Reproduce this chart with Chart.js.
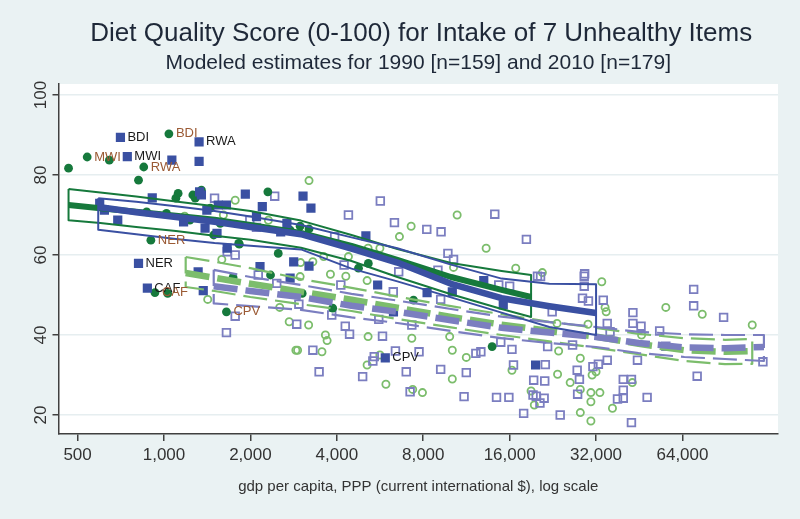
<!DOCTYPE html>
<html>
<head>
<meta charset="utf-8">
<script src="https://cdn.jsdelivr.net/npm/chart.js@4.4.1/dist/chart.umd.min.js"></script>
<style>
html, body { margin: 0; padding: 0; background: #eaf2f3; }
#wrap { width: 800px; height: 519px; }
</style>
</head>
<body>
<div id="wrap"><canvas id="c" width="800" height="519"></canvas></div>
<script>
// titles / axis text
var titleText = 'Diet Quality Score (0-100) for Intake of 7 Unhealthy Items';
var subtitleText = 'Modeled estimates for 1990 [n=159] and 2010 [n=179]';
var xTitle = 'gdp per capita, PPP (current international $), log scale';
var xTicks = [500, 1000, 2000, 4000, 8000, 16000, 32000, 64000];
var yTicks = [20, 40, 60, 80, 100];

// countries, [gdp, score, label]
var blueSquares = [
    [705, 89.4, 'BDI'], [745, 84.6, 'MWI'], [1065, 83.7], [1325, 88.3, 'RWA'], [1325, 83.4],
    [910, 74.3], [597, 72.9], [620, 71.2], [690, 68.7], [1330, 75.8], [1350, 75], [1545, 72.5],
    [1650, 72.5], [1410, 71.2], [1920, 75.2], [2200, 72.1], [2100, 69.6], [2680, 67.9], [1390, 66.7],
    [1530, 65.4], [1660, 61.7], [1170, 68.3], [2550, 65.8], [2160, 57.1], [2830, 58.3],
    [815, 57.9, 'NER'], [875, 51.7, 'CAF'], [1370, 51.1], [1315, 55.8], [2750, 54.2],
    [5900, 34.3, 'CPV'], [5550, 52.5], [3200, 57.2], [8250, 50.6], [6300, 45.8], [13000, 53.6],
    [15200, 47.5], [19700, 32.5], [3050, 74.7], [3250, 71.7], [5050, 64.8], [10100, 50.8]
];
var greenDots = [
    [465, 81.7], [540, 84.5, 'MWI'], [645, 83.7], [1040, 90.3, 'BDI'], [850, 82, 'RWA'], [815, 78.7],
    [1120, 75.4], [1100, 74.2], [1260, 75], [1285, 74.2], [1350, 76.2], [2300, 75.8], [870, 70.8],
    [1020, 70.4], [1570, 67.9], [1450, 71.7], [1820, 62.9], [2500, 60.4], [900, 63.7, 'NER'],
    [930, 50.6, 'CAF'], [1030, 50.4], [1230, 68.7], [1490, 65], [1830, 62.7], [1650, 45.8, 'CPV'],
    [1740, 54.4], [2350, 55], [2750, 66.2], [2980, 67.2], [3200, 66.5], [4760, 56.7], [5150, 57.9],
    [7400, 48.7], [13900, 37.1], [3030, 50.4], [3870, 46.7]
];
var hollowSquares = [
    [1500, 74.2], [2430, 74.7], [1990, 68.7], [2100, 66.9], [1770, 60], [1660, 60.8], [5670, 73.5],
    [4390, 70], [6350, 68.1], [8230, 66.4], [9230, 65.8], [14200, 70.2], [18300, 63.9], [3930, 64.6],
    [9750, 60.4], [10200, 58.9], [4240, 57.5], [6570, 55.8], [9000, 56.2], [14660, 52.5], [16000, 52.2],
    [20000, 54.7], [4130, 52.5], [6290, 50.8], [2900, 42.7], [4280, 42.2], [4430, 40.2], [5770, 39.7],
    [3300, 36.2], [5400, 34.6], [5340, 33.5], [6400, 36], [7735, 35.8], [3470, 30.8], [4920, 29.6],
    [6980, 30.8], [9200, 31.4], [11300, 30.6], [7200, 25.8], [11100, 24.6], [14400, 24.4], [15900, 24.4],
    [12200, 35.4], [12700, 35.8], [14900, 38.2], [16300, 36.4], [16500, 32.5], [19400, 28.7], [19800, 24.7],
    [17900, 20.4], [19300, 25], [5600, 43.9], [7300, 42.5], [3840, 45], [9200, 48.9], [2950, 47.7],
    [29200, 55.3], [29100, 54.7], [29100, 52.2], [28700, 49.2], [30100, 48.5], [33900, 48.7], [20500, 54.6],
    [22500, 45.8], [35000, 42.9], [35800, 40.8], [43000, 45.6], [43000, 42.9], [45900, 42.2], [53300, 41],
    [70000, 51.4], [70000, 47.3], [89000, 44.4], [56000, 37.2], [35000, 33.7], [32600, 32.7], [31200, 32.1],
    [27500, 31.2], [28000, 28.9], [21300, 32.6], [21200, 28.5], [27600, 25.2], [21100, 24.2], [20400, 23],
    [24000, 20], [39800, 28.9], [42500, 28.9], [39800, 26.2], [39800, 24.2], [38000, 24], [48200, 24.4],
    [42500, 18.1], [21700, 37.1], [26500, 37.5], [44600, 33.7], [72000, 29.7], [122000, 33.3],
    [1770, 44.7], [1650, 40.6], [2130, 55], [2470, 52.9]
];
var hollowCircles = [
    [1770, 73.7], [1610, 70], [1180, 69.7], [1590, 58.9], [2310, 68.7], [3200, 78.6], [7260, 67.2],
    [6610, 64.6], [10500, 70], [13250, 61.7], [16800, 56.7], [4390, 59.6], [5140, 61.7], [5650, 61.7],
    [3300, 58.3], [2990, 58.1], [3600, 59.6], [3190, 42.5], [3650, 40], [3700, 38.6], [5140, 39.6],
    [7300, 39.2], [2920, 36.2], [3550, 35.8], [5100, 32.5], [5650, 35], [5930, 27.7], [7350, 26.4],
    [7950, 25.6], [9890, 39.6], [10100, 36.2], [11300, 34.4], [10100, 29], [16300, 31.2], [19000, 26],
    [19500, 22.5], [2980, 54.6], [3800, 55.2], [4300, 54.7], [5100, 53.6], [10200, 56.9], [20800, 55.6],
    [33500, 53.3], [34400, 46.9], [34700, 45.8], [30000, 42.7], [23400, 42.9], [46100, 40], [56000, 46.9],
    [75000, 45.2], [112000, 42.5], [23700, 36], [28200, 34.2], [31000, 30], [32000, 30.8], [23500, 30.2],
    [26000, 28.1], [28200, 26.4], [30700, 25.6], [33000, 25.6], [30700, 23.3], [36500, 21.7], [28200, 20.6],
    [30700, 18.5], [42800, 28.1], [1420, 48.9], [2530, 46.9], [2730, 43.3], [2880, 36.2]
];

// fitted lines + 95% CI
var fitBlueX = [590, 800, 1100, 1500, 2000, 3000, 4500, 6500, 10000, 15000, 22000, 32000];
var fitBlue = [72, 70.7, 69.5, 68.3, 67, 65.2, 61.6, 58.1, 52.8, 49.2, 47.2, 45.5];
var fitBlueHi = [74.2, 73.3, 72.2, 71, 69.6, 67.5, 64.4, 61.7, 57.6, 54.1, 52.8, 52.7];
var fitBlueLo = [66.3, 65.2, 64, 63, 62.3, 61.4, 56.6, 53.4, 49.4, 45.6, 42, 40];

var fitGreenX = [465, 600, 800, 1100, 1500, 2000, 3000, 4500, 6500, 10000, 15000, 19000];
var fitGreen = [72.5, 71.7, 70.8, 69.8, 68.8, 67.5, 65.5, 62.3, 58.8, 54.5, 51.3, 49.5];
var fitGreenHi = [76.5, 75.6, 74.6, 73.4, 72.2, 71, 68.6, 65, 61.5, 58, 56, 55];
var fitGreenLo = [68.7, 68, 67, 66, 64.8, 63.8, 61.8, 58.5, 54.5, 50.2, 46.5, 44.5];

var fitLavX = [1490, 2000, 3000, 4500, 6500, 10000, 15000, 22000, 32000, 45000, 65000, 90000, 123000];
var fitLav = [52.2, 51, 49.5, 47.3, 45.8, 43.7, 41.8, 40.6, 39.5, 38, 36.9, 36.7, 37];
var fitLavHi = [56.3, 54.5, 52.5, 50.3, 48.6, 46.5, 44.6, 43.2, 42, 40.8, 40.2, 40, 40];
var fitLavLo = [47.9, 47.2, 46.3, 44.4, 43, 41, 39.2, 38, 37, 35.5, 34.5, 34, 33.5];

var fitLtX = [1190, 1500, 2000, 3000, 4500, 6500, 10000, 15000, 22000, 32000, 45000, 65000, 90000, 112000];
var fitLt = [55.5, 54.3, 52.8, 50.8, 48.8, 46.8, 44.5, 42.6, 41, 39.6, 37.8, 36.2, 35.8, 36];
var fitLtHi = [59.5, 58.3, 56.7, 54, 51.8, 49.6, 47.2, 45.2, 43.3, 41.8, 40.3, 39.2, 38.8, 39];
var fitLtLo = [52, 51, 49.5, 47.7, 46, 44, 41.9, 40, 38.4, 36.8, 35.2, 33.5, 32.7, 32.8];

function pts(xs, ys) {
    return xs.map(function(x, i) { return { x: x, y: ys[i] }; });
}
// outline of a CI band (upper left->right, lower back, closed)
function band(xs, hi, lo) {
    var out = pts(xs, hi);
    for (var i = xs.length - 1; i >= 0; i--) out.push({ x: xs[i], y: lo[i] });
    out.push({ x: xs[0], y: hi[0] });
    return out;
}

var FONT = '"Liberation Sans", Arial, sans-serif';

function lineSet(data, color, width, dash, order) {
    return {
        type: 'scatter', data: data, showLine: true, pointRadius: 0, fill: false,
        borderColor: color, borderWidth: width, borderDash: dash || [], tension: 0,
        borderJoinStyle: 'round', order: order
    };
}

var frame = {
    id: 'frame',
    beforeDraw: function(chart) {
        var ctx = chart.ctx, a = chart.chartArea;
        ctx.save();
        ctx.fillStyle = '#eaf2f3';
        ctx.fillRect(0, 0, chart.width, chart.height);
        ctx.fillStyle = '#ffffff';
        ctx.fillRect(a.left, a.top, a.right - a.left, a.bottom - a.top);
        ctx.restore();
    },
    afterDatasetsDraw: function(chart) {
        var ctx = chart.ctx;
        ctx.save();
        ctx.font = '13px ' + FONT;
        ctx.textBaseline = 'middle';
        ctx.textAlign = 'left';
        chart.data.datasets.forEach(function(ds, di) {
            if (!ds.labelColor) return;
            var meta = chart.getDatasetMeta(di);
            ds.data.forEach(function(d, i) {
                if (!d[2]) return;
                var el = meta.data[i];
                ctx.fillStyle = ds.labelColor;
                ctx.fillText(d[2], el.x + 7, el.y);
            });
        });
        ctx.restore();
    },
    afterDraw: function(chart) {
        var ctx = chart.ctx, a = chart.chartArea;
        var cx = (a.left + a.right) / 2;
        ctx.save();
        ctx.textAlign = 'center';
        ctx.textBaseline = 'middle';
        ctx.fillStyle = '#1e2838';
        ctx.font = '26px ' + FONT;
        ctx.fillText(titleText, cx + 3, 34);
        ctx.font = '21px ' + FONT;
        ctx.fillText(subtitleText, cx, 63);
        ctx.fillStyle = '#333333';
        ctx.font = '15px ' + FONT;
        ctx.fillText(xTitle, cx, 487);
        // rotated y tick labels
        var ys = chart.scales.y;
        ctx.font = '17px ' + FONT;
        yTicks.forEach(function(v) {
            ctx.save();
            ctx.translate(41, ys.getPixelForValue(v));
            ctx.rotate(-Math.PI / 2);
            ctx.fillText(String(v), 0, 0);
            ctx.restore();
        });
        ctx.restore();
    }
};

new Chart(document.getElementById('c'), {
    type: 'scatter',
    data: {
        datasets: [
            lineSet(pts(fitBlueX, fitBlue), '#3a50a2', 6.5, null, 0),
            lineSet(band(fitBlueX, fitBlueHi, fitBlueLo), '#3a50a2', 2, null, 1),
            lineSet(pts(fitGreenX, fitGreen), '#16793c', 6, null, 2),
            lineSet(band(fitGreenX, fitGreenHi, fitGreenLo), '#16793c', 2, null, 3),
            lineSet(pts(fitLavX, fitLav), '#7b7ec0', 6.5, [24, 8], 4),
            lineSet(band(fitLavX, fitLavHi, fitLavLo), '#7b7ec0', 2.2, [24, 8], 5),
            lineSet(pts(fitLtX, fitLt), '#7cbd6c', 6.5, [24, 8], 6),
            lineSet(band(fitLtX, fitLtHi, fitLtLo), '#7cbd6c', 2.2, [24, 8], 7),
            {
                data: blueSquares, pointStyle: 'rect', pointRadius: 6.5, pointBorderWidth: 0,
                backgroundColor: '#3a50a2', borderColor: '#3a50a2', labelColor: '#1a1a1a', order: 8
            },
            {
                data: greenDots, pointStyle: 'circle', pointRadius: 4.4, pointBorderWidth: 0,
                backgroundColor: '#16793c', borderColor: '#16793c', labelColor: '#9b5a34', order: 9
            },
            {
                data: hollowSquares, pointStyle: 'rect', pointRadius: 5.4, pointBorderWidth: 1.8,
                backgroundColor: 'rgba(255,255,255,0)', borderColor: '#7b7ec0', order: 10
            },
            {
                data: hollowCircles, pointStyle: 'circle', pointRadius: 3.6, pointBorderWidth: 1.8,
                backgroundColor: 'rgba(255,255,255,0)', borderColor: '#7cbd6c', order: 11
            }
        ]
    },
    options: {
        responsive: false,
        animation: false,
        events: [],
        layout: { padding: { top: 84, right: 22, left: 0, bottom: 0 } },
        plugins: { legend: { display: false }, tooltip: { enabled: false }, title: { display: false } },
        scales: {
            x: {
                type: 'logarithmic', min: 429, max: 137700,
                afterBuildTicks: function(s) { s.ticks = xTicks.map(function(v) { return { value: v }; }); },
                afterFit: function(s) { s.height = 85; },
                border: { color: '#404040', width: 1.5 },
                grid: { drawOnChartArea: false, tickLength: 7, tickColor: '#404040', lineWidth: 1.5 },
                ticks: {
                    autoSkip: false, maxRotation: 0, padding: 4, color: '#333333',
                    font: { family: FONT, size: 17 },
                    callback: function(v) { return Number(v).toLocaleString('en-US'); }
                }
            },
            y: {
                type: 'linear', min: 15.25, max: 102.75,
                afterBuildTicks: function(s) { s.ticks = yTicks.map(function(v) { return { value: v }; }); },
                afterFit: function(s) { s.width = 58.5; },
                border: { color: '#404040', width: 1.5 },
                grid: { color: '#e6eef0', lineWidth: 1.5, tickLength: 6, tickColor: '#404040' },
                ticks: { display: false }
            }
        }
    },
    plugins: [frame]
});
</script>
</body>
</html>
